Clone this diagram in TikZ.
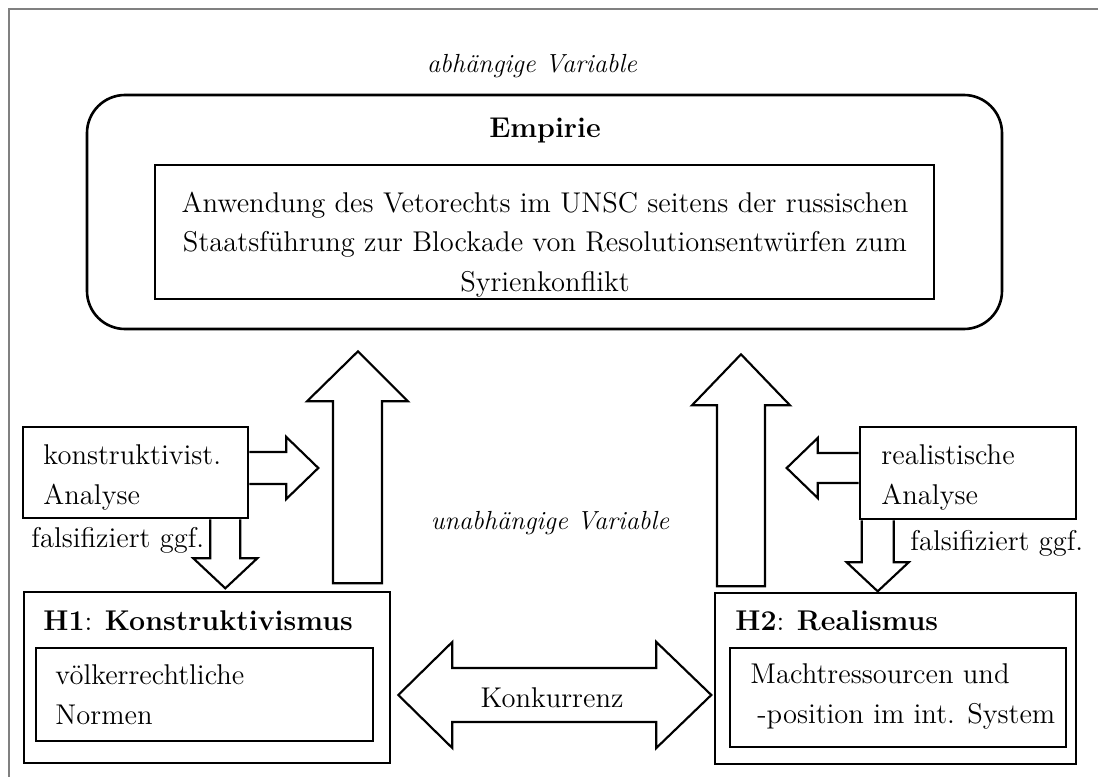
\documentclass[tikz,border=0pt]{standalone}
\usepackage{fontspec}
\usepackage{tikz}
\usetikzlibrary{calc}
\newcommand\diafont{\fontsize{12}{16.4}\selectfont}
\newcommand\varfont{\fontsize{11}{14}\selectfont\itshape}

\begin{document}
\begin{tikzpicture}[x=0.42pt,y=-0.42pt,line join=miter,
  every node/.style={font=\diafont},
  sized/.style 2 args={minimum width=#1*0.42pt,minimum height=#2*0.42pt},
  outerbox/.style={draw,line width=1.1pt,inner sep=0pt},
  innerbox/.style={draw,line width=0.5pt,inner sep=0pt},
  txt/.style={inner sep=0pt,align=left,anchor=base west},
  blockarrow/.style={draw,line width=0.9pt},
  frame/.style={draw=gray,line width=0.7pt}]
  \useasboundingbox (0,0) rectangle (1098,777);
  \draw[frame] (9,777) -- (9,9) -- (1098,9);

  % Empirie
  \node[inner sep=0pt,anchor=base,font=\varfont] (abh) at (532,72) {abhängige Variable};
  \node[outerbox,rounded corners=16pt,sized={915}{234}] (empirie) at (544.5,212) {};
  \node[inner sep=0pt,anchor=base,font=\diafont\bfseries] (emptitle) at (545,137) {Empirie};
  \node[innerbox,sized={779}{134}] (empinner) at (544.5,232) {};
  \node[inner sep=0pt,align=center,anchor=base] (emptext) at (545,291)
       {Anwendung des Vetorechts im UNSC seitens der russischen\\
        Staatsführung zur Blockade von Resolutionsentwürfen zum\\
        Syrienkonflikt};

  \node[inner sep=0pt,anchor=base,font=\varfont] (unabh) at (550,529) {unabhängige Variable};

  % linke Seite
  \node[outerbox,sized={225}{91}] (kana) at (135.5,472.5) {};
  \node[txt] (kanatext) at (43,504) {konstruktivist.\\Analyse};
  \node[txt] (kfals) at (31,547) {falsifiziert ggf.};
  \node[outerbox,sized={366}{171}] (h1) at (207,677.5) {};
  \node[txt] (h1title) at (43,630) {\textbf{H1}: \textbf{Konstruktivismus}};
  \node[innerbox,sized={337}{93}] (h1inner) at (204.5,694.5) {};
  \node[txt] (h1text) at (55,724) {völkerrechtliche\\Normen};

  % rechte Seite
  \node[outerbox,sized={216}{92}] (rana) at (968,473) {};
  \node[txt] (ranatext) at (881,504) {realistische\\Analyse};
  \node[txt] (rfals) at (910,550) {falsifiziert ggf.};
  \node[outerbox,sized={361}{171}] (h2) at (895.5,678.5) {};
  \node[txt] (h2title) at (735,630) {\textbf{H2}: \textbf{Realismus}};
  \node[innerbox,sized={336}{99}] (h2inner) at (898,697.5) {};
  \node[txt] (h2text) at (750,723) {Machtressourcen und\\\hspace*{2.9pt}-position im int. System};

  % Blockpfeile
  \draw[blockarrow] ($(empirie.south)+(-186.5,21)$) -- ++(50,50) -- ++(-26,0)
       -- ++(0,182) -- ++(-49,0) -- ++(0,-182) -- ++(-26,0) -- cycle;
  \draw[blockarrow] ($(empirie.south)+(196.5,24)$) -- ++(49,51) -- ++(-25,0)
       -- ++(0,181) -- ++(-48,0) -- ++(0,-181) -- ++(-25,0) -- cycle;
  \draw[blockarrow] ($(kana.east)+(0,-20.5)$) -- ++(37,0) -- ++(0,-15)
       -- ++(32,31) -- ++(-32,31) -- ++(0,-15) -- ++(-37,0);
  \draw[blockarrow] ($(kana.south east)+(-39,0)$) -- ++(0,39) -- ++(-17,0)
       -- ++(32,30) -- ++(32,-30) -- ++(-17,0) -- ++(0,-39);
  \draw[blockarrow] ($(rana.west)+(0,-20)$) -- ++(-41,0) -- ++(0,-15)
       -- ++(-31,30) -- ++(31,30) -- ++(0,-15) -- ++(41,0);
  \draw[blockarrow] ($(rana.south west)+(3,0)$) -- ++(0,42) -- ++(-15,0)
       -- ++(31,29) -- ++(31,-29) -- ++(-15,0) -- ++(0,-42);
  \draw[blockarrow] ($(h1.east)+(7,17.5)$) -- ++(54,-53) -- ++(0,26) -- ++(204,0)
       -- ++(0,-26) -- ++(55,53) -- ++(-55,53) -- ++(0,-26) -- ++(-204,0)
       -- ++(0,26) -- cycle;
  \node[inner sep=0pt,anchor=base] (konk) at (552,707) {Konkurrenz};
\end{tikzpicture}
\end{document}
